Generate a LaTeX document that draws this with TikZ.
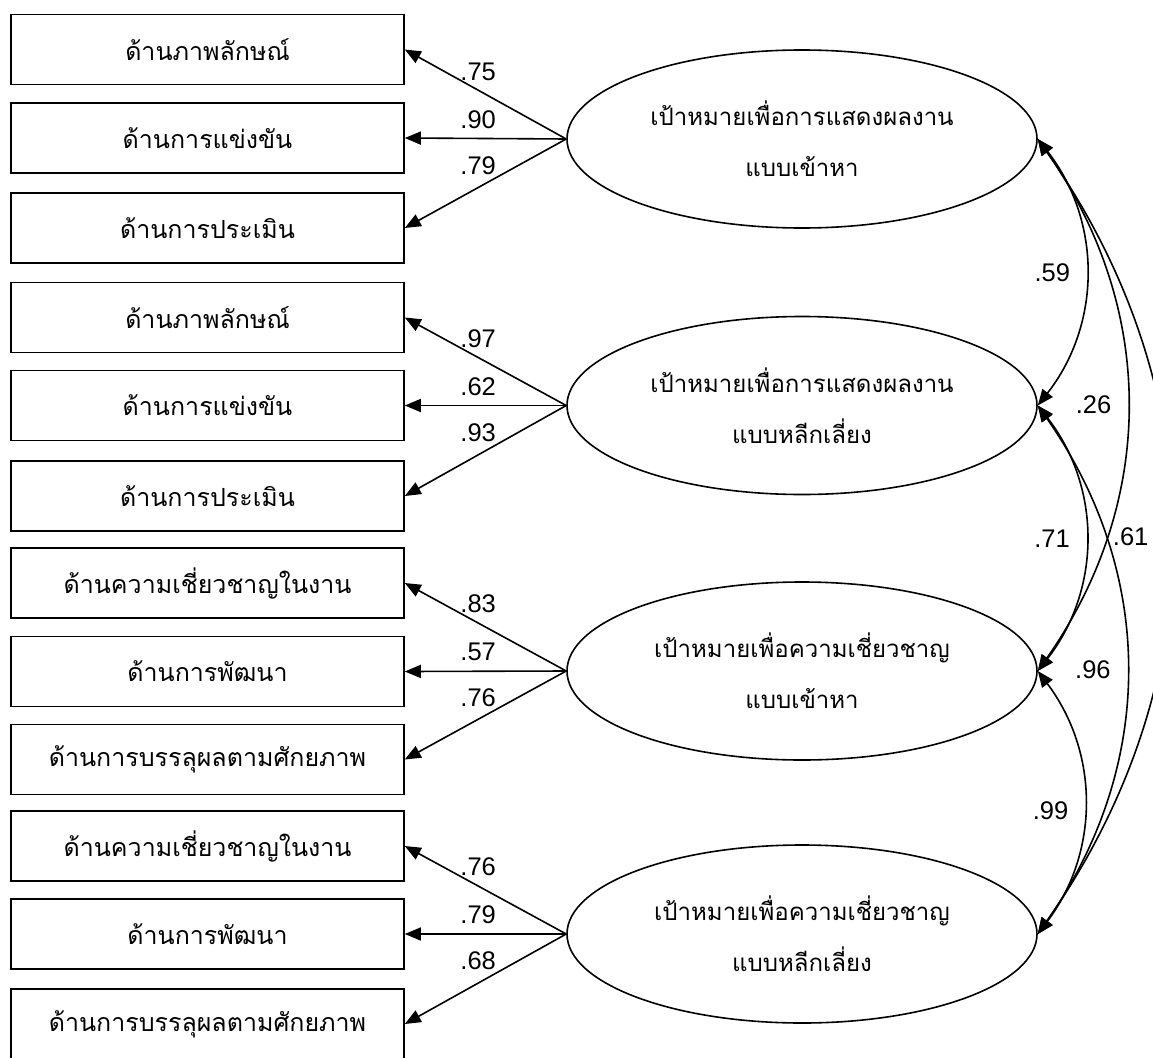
\documentclass[tikz,border=0pt]{standalone}
\usepackage{fontspec}
\setmainfont{Loma}[Script=Thai]
\newfontfamily\numfont{Liberation Sans}
\usetikzlibrary{shapes.geometric,arrows.meta}

\begin{document}
\begin{tikzpicture}[x=1pt,y=-1pt,
    obs/.style={draw,line width=1.6pt,minimum width=393pt,minimum height=70pt,inner sep=0pt,font=\fontsize{25}{28}\selectfont},
    lat/.style={draw,ellipse,line width=1.6pt,minimum width=470pt,minimum height=178pt,inner sep=0pt,align=center,font=\fontsize{24}{51}\selectfont},
    coef/.style={font=\numfont\fontsize{25.5}{28}\selectfont,inner sep=0pt},
    load/.style={line width=1.6pt,-{Triangle[length=16pt,width=13pt]}},
    cov/.style={line width=1.6pt,{Triangle[length=16pt,width=13pt]}-{Triangle[length=16pt,width=13pt]}}]
  \useasboundingbox (0,0) rectangle (1153,1057);
  \draw
    (207.5,49.5) node[obs] (x1){ด้านภาพลักษณ์}
    (207.5,138) node[obs] (x2){ด้านการแข่งขัน}
    (207.5,228) node[obs] (x3){ด้านการประเมิน}
    (207.5,317.5) node[obs] (x4){ด้านภาพลักษณ์}
    (207.5,405.5) node[obs] (x5){ด้านการแข่งขัน}
    (207.5,496) node[obs] (x6){ด้านการประเมิน}
    (207.5,583) node[obs] (x7){ด้านความเชี่ยวชาญในงาน}
    (207.5,671.5) node[obs] (x8){ด้านการพัฒนา}
    (207.5,759.5) node[obs] (x9){ด้านการบรรลุผลตามศักยภาพ}
    (207.5,846) node[obs] (x10){ด้านความเชี่ยวชาญในงาน}
    (207.5,934) node[obs] (x11){ด้านการพัฒนา}
    (207.5,1024) node[obs] (x12){ด้านการบรรลุผลตามศักยภาพ};
  \draw
    (802,139) node[lat] (f1){เป้าหมายเพื่อการแสดงผลงาน\\แบบเข้าหา}
    (802,405.5) node[lat] (f2){เป้าหมายเพื่อการแสดงผลงาน\\แบบหลีกเลี่ยง}
    (802,671) node[lat] (f3){เป้าหมายเพื่อความเชี่ยวชาญ\\แบบเข้าหา}
    (802,934) node[lat] (f4){เป้าหมายเพื่อความเชี่ยวชาญ\\แบบหลีกเลี่ยง};
  \draw
    ([shift={(-88,-67)}]f1.west) node[coef] (l1){.75}
    ([shift={(-88,-19)}]f1.west) node[coef] (l2){.90}
    ([shift={(-88,27)}]f1.west) node[coef] (l3){.79}
    ([shift={(-88,-67)}]f2.west) node[coef] (l4){.97}
    ([shift={(-88,-19)}]f2.west) node[coef] (l5){.62}
    ([shift={(-88,27)}]f2.west) node[coef] (l6){.93}
    ([shift={(-88,-67)}]f3.west) node[coef] (l7){.83}
    ([shift={(-88,-19)}]f3.west) node[coef] (l8){.57}
    ([shift={(-88,27)}]f3.west) node[coef] (l9){.76}
    ([shift={(-88,-67)}]f4.west) node[coef] (l10){.76}
    ([shift={(-88,-19)}]f4.west) node[coef] (l11){.79}
    ([shift={(-88,27)}]f4.west) node[coef] (l12){.68};
  \begin{scope}[load]
    \draw (f1.west) to (x1.east);
    \draw (f1.west) to (x2.east);
    \draw (f1.west) to (x3.east);
    \draw (f2.west) to (x4.east);
    \draw (f2.west) to (x5.east);
    \draw (f2.west) to (x6.east);
    \draw (f3.west) to (x7.east);
    \draw (f3.west) to (x8.east);
    \draw (f3.west) to (x9.east);
    \draw (f4.west) to (x10.east);
    \draw (f4.west) to (x11.east);
    \draw (f4.west) to (x12.east);
  \end{scope}
  \begin{scope}[cov]
    \draw (f1.east) to[bend left=38] node[coef,left=15pt] (r1){.59} (f2.east);
    \draw (f1.east) to[bend left=35] node[coef,left=15pt] (r2){.26} (f3.east);
    \draw (f1.east) to[bend left=35] node[coef,left=22pt] (r3){.61} (f4.east);
    \draw (f2.east) to[bend left=38] node[coef,left=15pt] (r4){.71} (f3.east);
    \draw (f2.east) to[bend left=35] node[coef,left=15pt] (r5){.96} (f4.east);
    \draw (f3.east) to[bend left=37] node[coef,left=15pt,yshift=-8pt] (r6){.99} (f4.east);
  \end{scope}
\end{tikzpicture}
\end{document}
